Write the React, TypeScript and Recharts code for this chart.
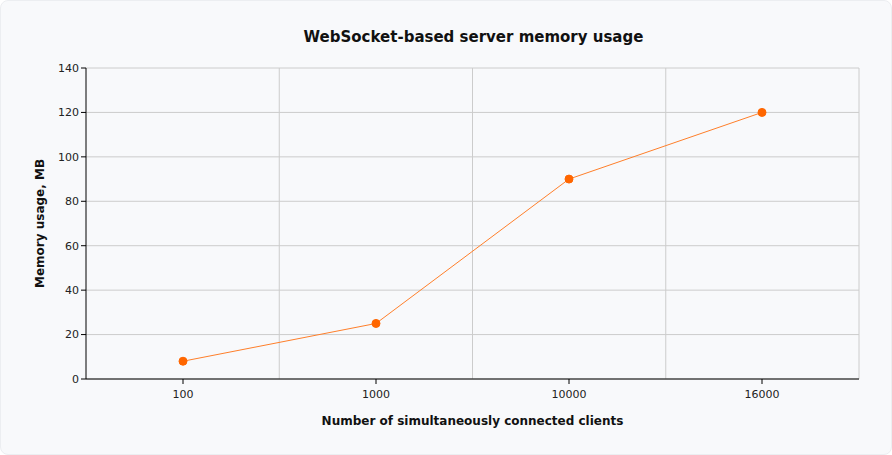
import { CartesianGrid, Line, LineChart, XAxis, YAxis } from "recharts";

export const clients = ["100", "1000", "10000", "16000"];
export const memoryMb = [8, 25, 90, 120];
export const yTicks = [0, 20, 40, 60, 80, 100, 120, 140];

const data = clients.map((c, i) => ({ clients: c, memory: memoryMb[i] }));

const font = "Verdana, 'DejaVu Sans', sans-serif";

export default function App() {
  return (
    <div
      style={{
        position: "absolute",
        left: 0,
        top: 0,
        width: 892,
        height: 455,
        background: "#f8f9fb",
        boxSizing: "border-box",
        border: "1px solid #eceef1",
        borderRadius: 8,
        fontFamily: font,
      }}
    >
      <div
        style={{
          position: "absolute",
          left: 86,
          width: 773,
          top: 27,
          textAlign: "center",
          fontWeight: "bold",
          fontSize: 15,
          color: "#111",
        }}
      >
        WebSocket-based server memory usage
      </div>
      <LineChart
        width={892}
        height={455}
        data={data}
        margin={{ top: 68, right: 33, bottom: 46, left: 26 }}
        style={{ position: "absolute", left: -1, top: -1 }}
      >
        <CartesianGrid
          stroke="#cccccc"
          verticalCoordinatesGenerator={({ offset }: any) =>
            [1, 2, 3, 4].map((i) => offset.left + (i * offset.width) / clients.length)
          }
        />
        <XAxis
          dataKey="clients"
          height={30}
          padding={{ left: 97, right: 97 }}
          stroke="#000"
          tickSize={5}
          tick={{ fill: "#222", fontSize: 11, fontFamily: font }}
          tickMargin={6}
          label={{
            value: "Number of simultaneously connected clients",
            position: "insideBottom",
            offset: -16,
            style: { fontWeight: "bold", fontSize: 12, fill: "#111", fontFamily: font },
          }}
        />
        <YAxis
          width={60}
          domain={[0, 140]}
          ticks={yTicks}
          stroke="#000"
          tickSize={5}
          tick={{ fill: "#222", fontSize: 11, fontFamily: font }}
          label={{
            value: "Memory usage, MB",
            angle: -90,
            position: "insideLeft",
            offset: 14,
            style: { fontWeight: "bold", fontSize: 12, fill: "#111", fontFamily: font, textAnchor: "middle" },
          }}
        />
        <Line
          type="linear"
          dataKey="memory"
          stroke="#ff7f2a"
          strokeWidth={1}
          dot={{ r: 4, fill: "#ff6600", stroke: "#ff6600", strokeWidth: 1 }}
          activeDot={false}
          isAnimationActive={false}
        />
      </LineChart>
    </div>
  );
}
